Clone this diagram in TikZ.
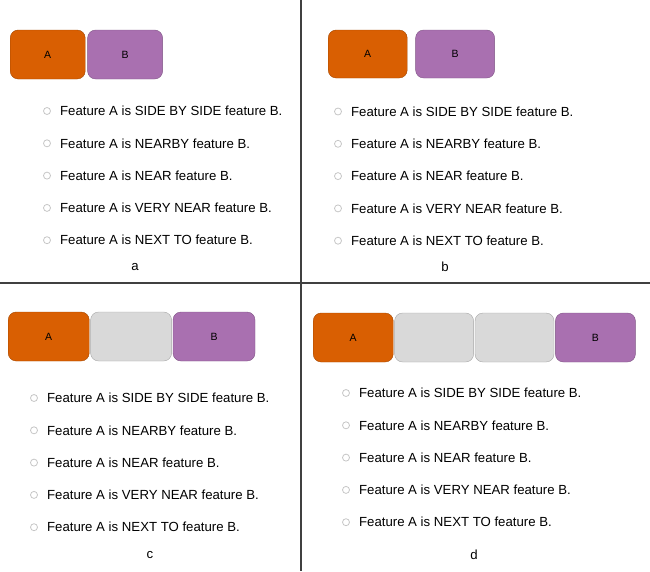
\documentclass[tikz,border=0pt]{standalone}
\usepackage{fontspec}
\setmainfont{Liberation Sans}
\usetikzlibrary{positioning}
\definecolor{featA}{HTML}{D95F02}
\definecolor{featB}{HTML}{A970B0}
\definecolor{featGap}{HTML}{D9D9D9}
\definecolor{rule}{HTML}{404040}
\tikzset{
	feat/.style={draw=#1!75!black, fill=#1, rounded corners=8pt, inner sep=0pt, anchor=west,
		font=\fontsize{10.5}{11}\selectfont},
	gapbox/.style={draw=gray!70, fill=featGap, rounded corners=8pt, inner sep=0pt},
	opt/.style={circle, draw=gray!45, line width=0.8pt, minimum size=7pt, inner sep=0pt},
	item/.style={inner sep=0pt, font=\fontsize{13.2}{14}\selectfont},
	tag/.style={font=\fontsize{13.2}{14}\selectfont}
}
\newcommand{\featlist}[3]{%
	\foreach \t [count=\i] in {SIDE BY SIDE,NEARBY,NEAR,VERY NEAR,NEXT TO}{
		\node[opt] (#1-o\i) at (#2,{#3+32.3*(\i-1)}) {};
		\node[item, right=9pt of #1-o\i] (#1-t\i) {Feature A is \t{} feature B.};
	}}

\begin{document}
\begin{tikzpicture}[x=1pt,y=-1pt]
	\useasboundingbox (0,0) rectangle (650,571);
	\draw[rule, line width=1.3pt] (301,0) -- (301,571) (0,283) -- (650,283);

	% a
	\node[feat=featA, minimum width=75pt, minimum height=49pt] (a-A) at (10,54.5) {A};
	\node[feat=featB, minimum width=75pt, minimum height=49pt, right=2pt of a-A] (a-B) {B};
	\featlist{a}{47}{111}
	\node[tag] (a-lbl) at (135,267) {a};

	% b
	\node[feat=featA, minimum width=79pt, minimum height=48pt] (b-A) at (328,54) {A};
	\node[feat=featB, minimum width=79pt, minimum height=48pt, right=8pt of b-A] (b-B) {B};
	\featlist{b}{338}{111.5}
	\node[tag] (b-lbl) at (445,267) {b};

	% c
	\node[feat=featA, minimum width=81pt, minimum height=49pt] (c-A) at (8,336.5) {A};
	\node[gapbox, minimum width=81pt, minimum height=49pt, right=1pt of c-A] (c-G) {};
	\node[feat=featB, minimum width=82pt, minimum height=49pt, right=1pt of c-G] (c-B) {B};
	\featlist{c}{34}{398}
	\node[tag] (c-lbl) at (150,555) {c};

	% d
	\node[feat=featA, minimum width=80pt, minimum height=49pt] (d-A) at (313,337.5) {A};
	\node[gapbox, minimum width=79pt, minimum height=49pt, right=1pt of d-A] (d-G1) {};
	\node[gapbox, minimum width=79pt, minimum height=49pt, right=1pt of d-G1] (d-G2) {};
	\node[feat=featB, minimum width=80pt, minimum height=49pt, right=1pt of d-G2] (d-B) {B};
	\featlist{d}{346}{393}
	\node[tag] (d-lbl) at (474,555) {d};
\end{tikzpicture}
\end{document}
